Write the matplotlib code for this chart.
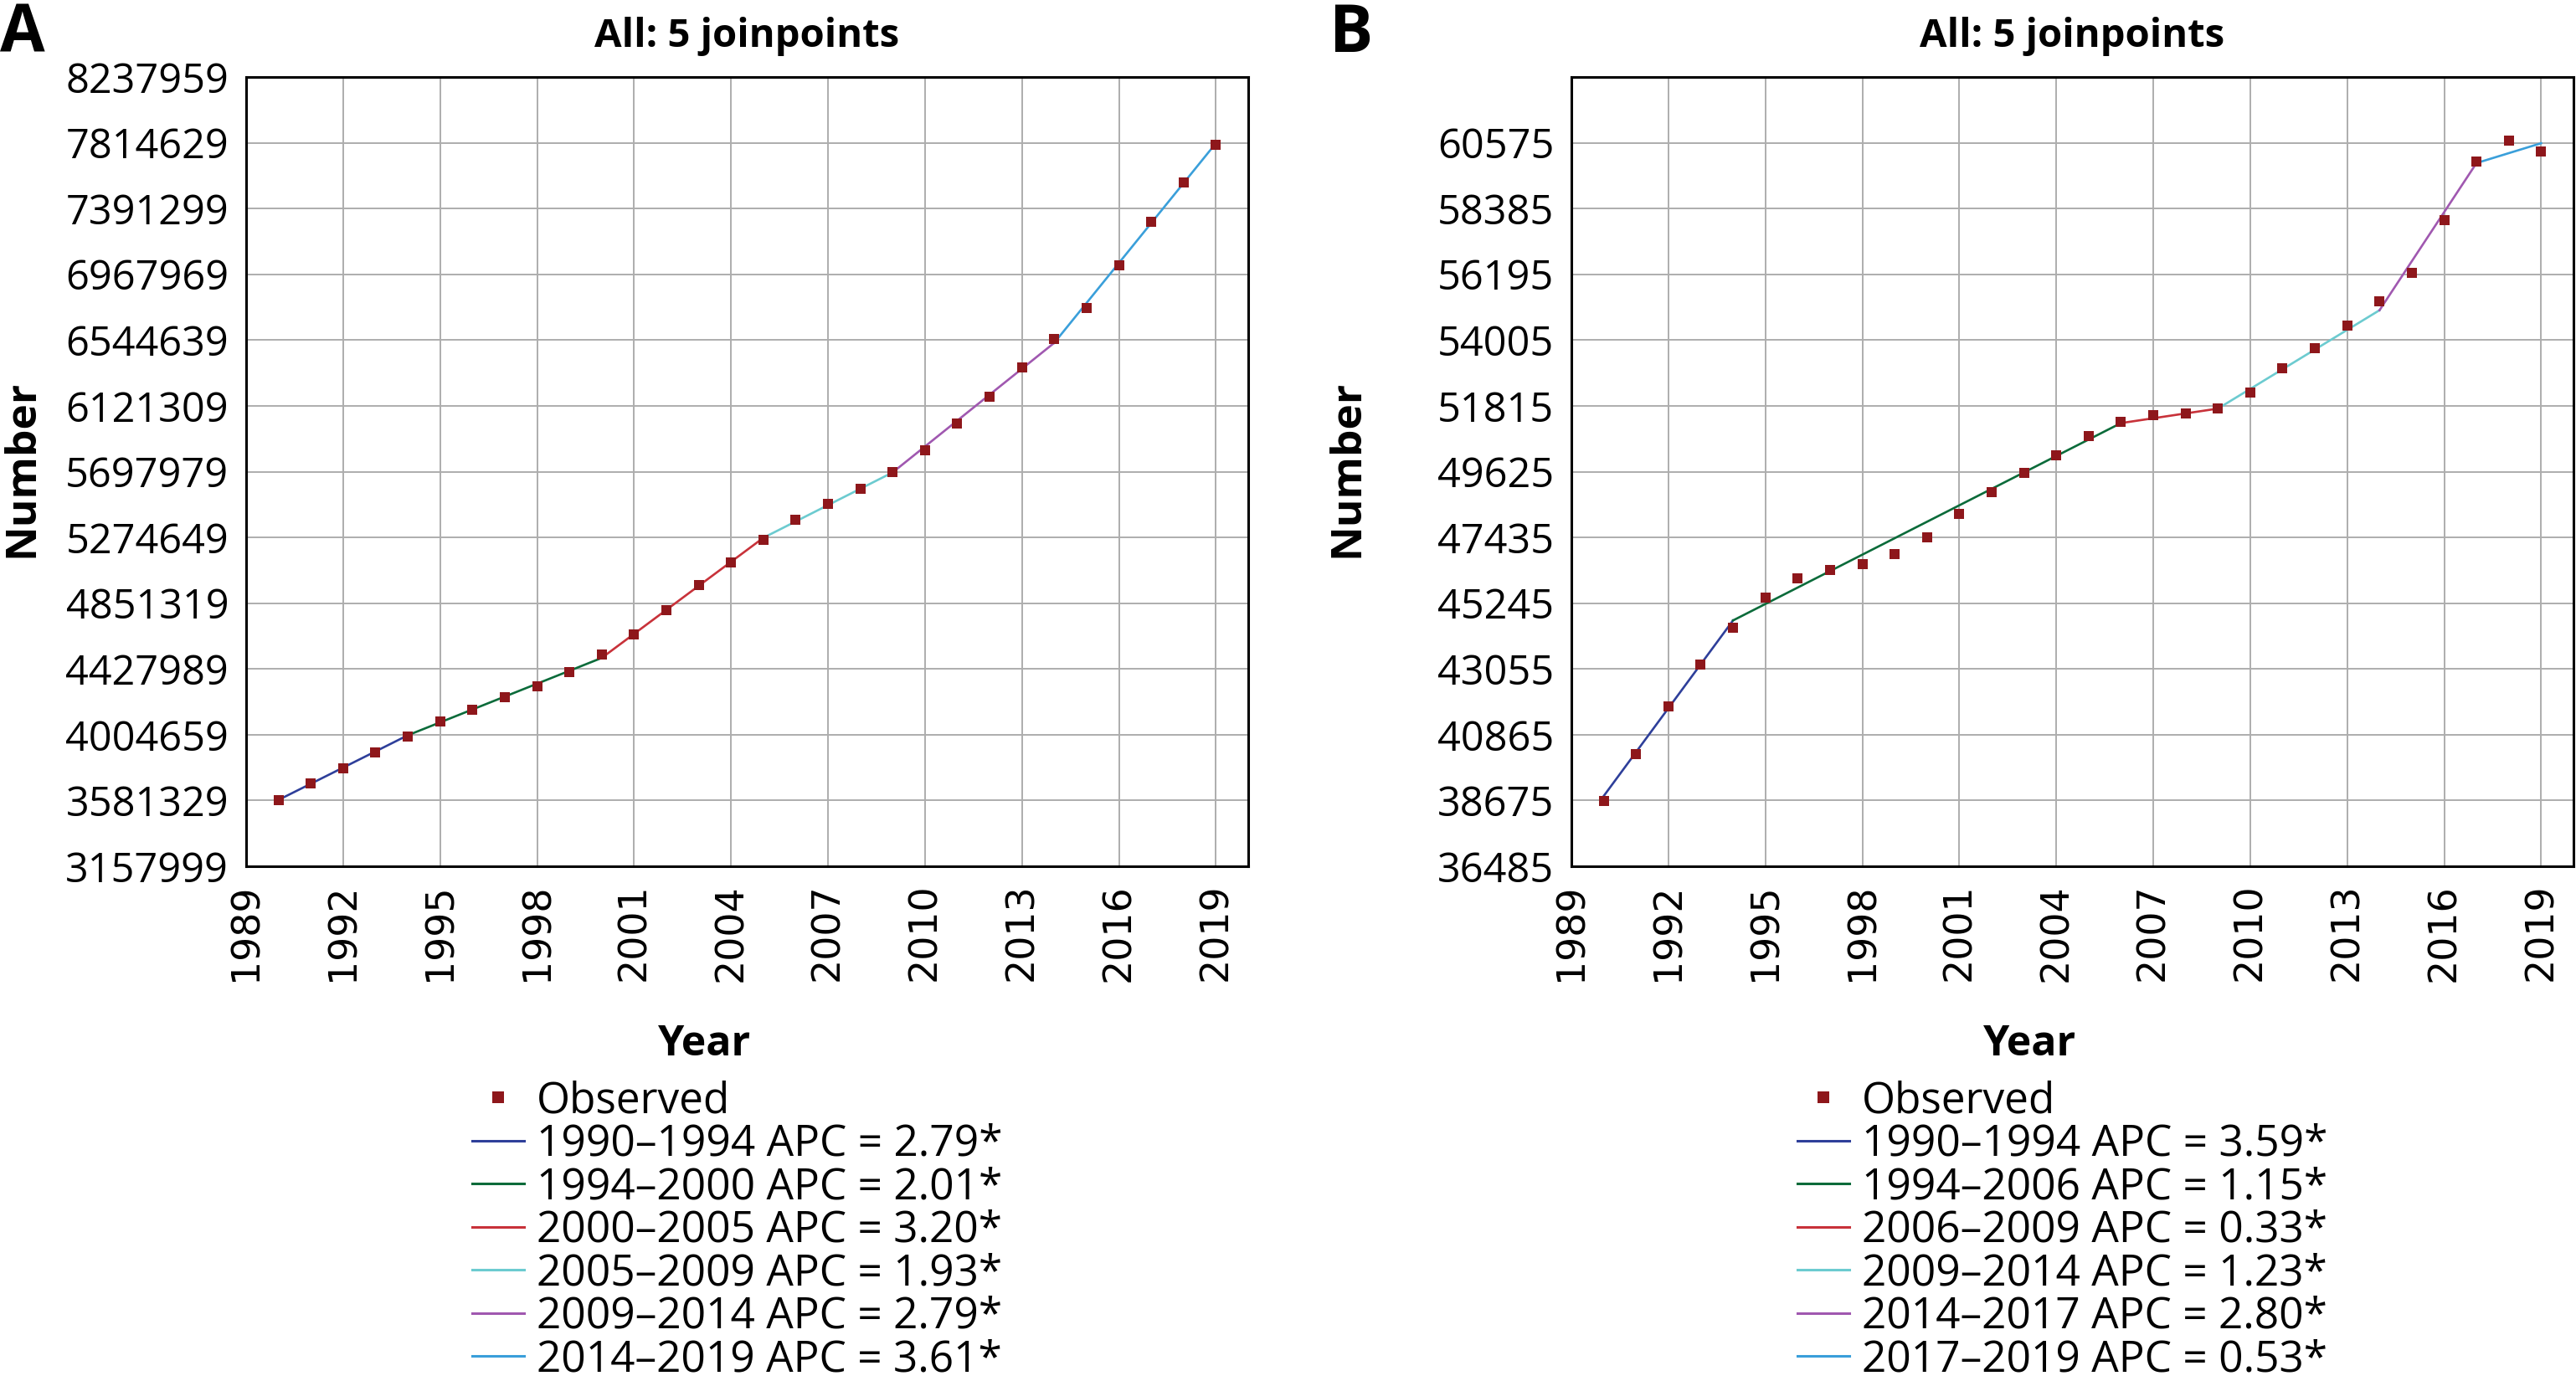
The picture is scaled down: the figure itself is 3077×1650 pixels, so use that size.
import matplotlib
matplotlib.use("Agg")
import matplotlib.pyplot as plt
import numpy as np

plt.rcParams['font.family'] = ['Open Sans', 'DejaVu Sans']

# data
years = list(range(1990, 2020))

obs_a = [3581000, 3691000, 3789000, 3893000, 3995000, 4089000, 4164000, 4245000,
         4314000, 4407000, 4522000, 4651000, 4809000, 4967000, 5113000, 5261000,
         5386000, 5490000, 5588000, 5697000, 5835000, 6010000, 6180000, 6367000,
         6550000, 6750000, 7025000, 7307000, 7558000, 7803000]
joints_a = [1990, 1994, 2000, 2005, 2009, 2014, 2019]
fit_a = [3585000, 4001000, 4499000, 5272000, 5693000, 6527000, 7812000]
labels_a = ['1990–1994 APC = 2.79*', '1994–2000 APC = 2.01*', '2000–2005 APC = 3.20*',
            '2005–2009 APC = 1.93*', '2009–2014 APC = 2.79*', '2014–2019 APC = 3.61*']

obs_b = [38645, 40230, 41807, 43194, 44432, 45424, 46058, 46346, 46545, 46872,
         47425, 48209, 48953, 49575, 50179, 50803, 51271, 51513, 51563, 51724,
         52248, 53068, 53743, 54498, 55300, 56250, 58010, 59945, 60651, 60292]
joints_b = [1990, 1994, 2006, 2009, 2014, 2017, 2019]
fit_b = [38824, 44670, 51241, 51724, 55000, 59900, 60560]
labels_b = ['1990–1994 APC = 3.59*', '1994–2006 APC = 1.15*', '2006–2009 APC = 0.33*',
            '2009–2014 APC = 1.23*', '2014–2017 APC = 2.80*', '2017–2019 APC = 0.53*']

yticks_a = [3157999 + 423330 * k for k in range(13)]
yticks_b = [36485 + 2190 * k for k in range(12)]
xticks = list(range(1989, 2020, 3))

seg_colors = ['#2E3F9A', '#0B6B3A', '#C8323A', '#6CCBD0', '#A058B0', '#3A9FDA']
obs_color = '#8E171B'

W, H = 3077, 1650
fig = plt.figure(figsize=(W / 200, H / 200), dpi=200)


def panel(left_px, obs, joints, fit, labels, yticks, ylim, letter, letter_x):
    ax = fig.add_axes([left_px / W, 1 - 1035 / H, 1197 / W, 943 / H])
    ax.plot(years, obs, 's', color=obs_color, markersize=4.3, markeredgewidth=0,
            label='Observed', zorder=4)
    for i in range(len(joints) - 1):
        ax.plot(joints[i:i + 2], fit[i:i + 2], '-', color=seg_colors[i], lw=0.95,
                label=labels[i], zorder=3)
    ax.set_xlim(1989, 2020)
    ax.set_ylim(*ylim)
    ax.set_xticks(xticks)
    ax.set_yticks(yticks)
    ax.set_yticklabels([str(v) for v in yticks], fontsize=17.5)
    ax.set_xticklabels([str(v) for v in xticks], rotation=90, fontsize=16.5,
                       family=['DejaVu Sans Condensed', 'DejaVu Sans'])
    ax.tick_params(length=0, pad=7.5)
    ax.grid(True, color='#adadad', lw=0.7, zorder=0)
    for s in ax.spines.values():
        s.set_linewidth(1.1)
        s.set_color('black')
    ax.set_title('All: 5 joinpoints', fontsize=17, fontweight='bold', pad=13)
    ax.legend(loc='upper left', bbox_to_anchor=(0.2256, -0.2706), frameon=False,
              fontsize=18.5, labelspacing=0.01, handlelength=1.2, handletextpad=0.3,
              borderpad=0, borderaxespad=0, markerscale=1.25)
    for line in ax.get_legend().get_lines()[1:]:
        line.set_linewidth(1.1)
    fig.text((left_px + 548) / W, 1 - 1248 / H, 'Year', fontsize=18,
             fontweight='bold', ha='center', va='center')
    fig.text((left_px - 268) / W, 1 - 560 / H, 'Number', fontsize=18.5,
             fontweight='bold', ha='center', va='center', rotation=90)
    fig.text(letter_x / W, 1 - 2 / H, letter, fontsize=28, fontweight='bold',
             ha='left', va='top')
    return ax


panel(294, obs_a, joints_a, fit_a, labels_a, yticks_a, (3157999, 8237959), 'A', 0)
panel(1877, obs_b, joints_b, fit_b, labels_b, yticks_b, (36485, 62765), 'B', 1588)

fig.savefig('out.png', dpi=200)
